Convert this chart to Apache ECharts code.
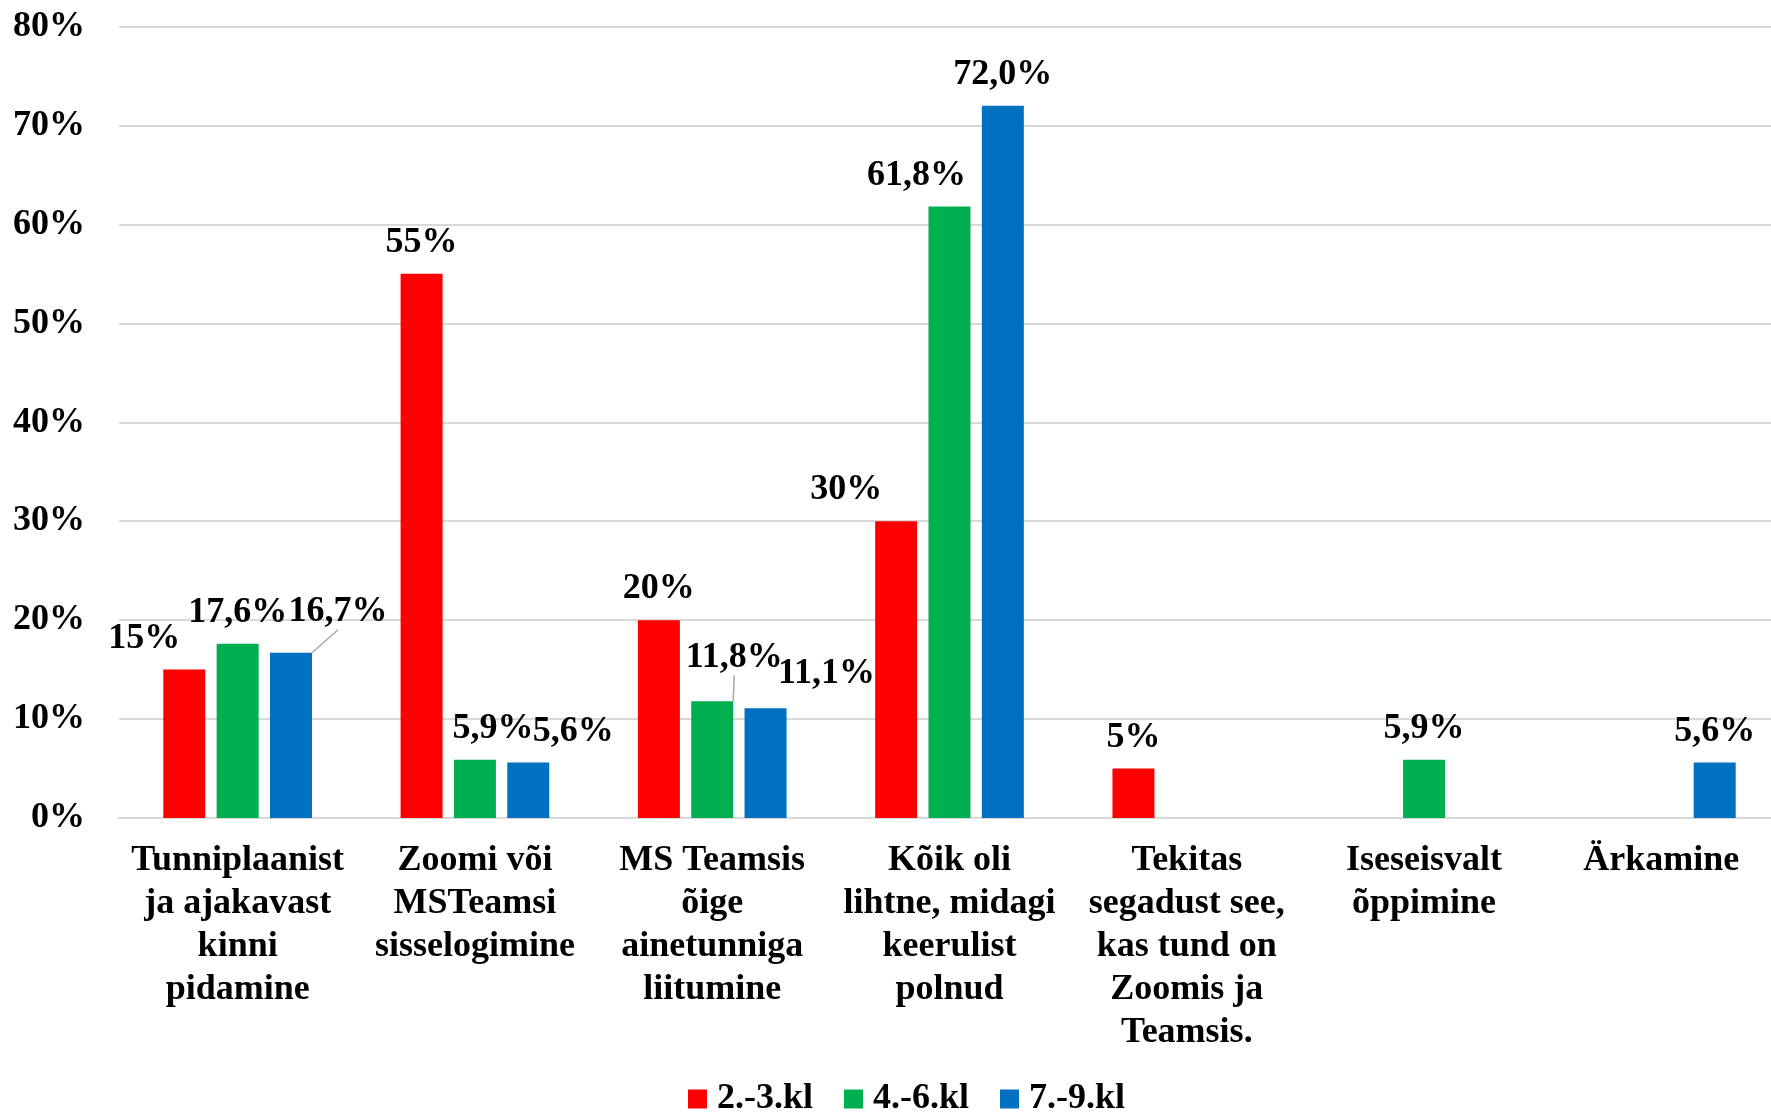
<!DOCTYPE html>
<html>
<head>
<meta charset="utf-8">
<script src="https://cdn.jsdelivr.net/npm/echarts@6/dist/echarts.min.js"></script>
<style>html,body{margin:0;padding:0;background:#fff}#c{width:1771px;height:1113px}</style>
</head>
<body>
<div id="c"></div>
<script>
var categories = [
  "Tunniplaanist\nja ajakavast\nkinni\npidamine",
  "Zoomi või\nMSTeamsi\nsisselogimine",
  "MS Teamsis\nõige\nainetunniga\nliitumine",
  "Kõik oli\nlihtne, midagi\nkeerulist\npolnud",
  "Tekitas\nsegadust see,\nkas tund on\nZoomis ja\nTeamsis.",
  "Iseseisvalt\nõppimine",
  "Ärkamine"
];
var seriesNames = ["2.-3.kl", "4.-6.kl", "7.-9.kl"];
var values23 = [15, 55, 20, 30, 5, null, null];
var values46 = [17.6, 5.9, 11.8, 61.8, null, 5.9, null];
var values79 = [16.7, 5.6, 11.1, 72.0, null, null, 5.6];
var labels23 = ["15%", "55%", "20%", "30%", "5%", "", ""];
var labels46 = ["17,6%", "5,9%", "11,8%", "61,8%", "", "5,9%", ""];
var labels79 = ["16,7%", "5,6%", "11,1%", "72,0%", "", "", "5,6%"];
var yTicks = [0, 10, 20, 30, 40, 50, 60, 70, 80];

var colors = ["#FF0000", "#00B050", "#0070C0"];
var FONT = "'Liberation Serif','Times New Roman',serif";

// label nudges [dx, dy] per series / category (layout only)
var nudges = [
  [[-40,0],[0,0],[0,0],[-50,0],[0,0],[0,0],[0,0]],
  [[0,0],[18,0],[22,-13],[-33,0],[0,0],[0,0],[0,0]],
  [[47,-10],[45,0],[61,-3],[0,0],[0,0],[0,0],[0,0]]
];
var guideLines = [[], [2], [0]];

var valueSets = [values23, values46, values79];
var labelSets = [labels23, labels46, labels79];

var series = valueSets.map(function (vals, s) {
  return {
    name: seriesNames[s],
    type: 'bar',
    barWidth: 42,
    barGap: '27%',
    itemStyle: { color: colors[s] },
    data: vals.map(function (v, i) {
      var item = { value: v };
      if (guideLines[s].indexOf(i) >= 0) {
        item.labelLine = { show: true, lineStyle: { color: '#A6A6A6', width: 1.5 } };
      }
      return item;
    }),
    label: {
      show: true,
      position: 'top',
      distance: 13,
      color: '#000',
      fontFamily: FONT,
      fontWeight: 'bold',
      fontSize: 36,
      formatter: (function (labs) { return function (p) { return labs[p.dataIndex]; }; })(labelSets[s])
    },
    labelLine: { show: false, lineStyle: { color: '#A6A6A6', width: 1.5 } },
    labelLayout: (function (ss) {
      return function (p) {
        var n = nudges[ss][p.dataIndex] || [0, 0];
        return { dx: n[0], dy: n[1] };
      };
    })(s)
  };
});

var chart = echarts.init(document.getElementById('c'));
chart.setOption({
  animation: false,
  backgroundColor: '#fff',
  grid: { left: 119, width: 1661, top: 26.5, bottom: 295, outerBoundsMode: 'none', containLabel: false },
  legend: {
    data: seriesNames,
    left: 683,
    top: 1076,
    icon: 'rect',
    itemWidth: 19,
    itemHeight: 19,
    itemGap: 31,
    textStyle: { fontFamily: FONT, fontWeight: 'bold', fontSize: 36, color: '#000', padding: [0, 0, 0, 5] }
  },
  xAxis: {
    type: 'category',
    data: categories,
    axisLine: { show: true, lineStyle: { color: '#D9D9D9', width: 2 } },
    axisTick: { show: false },
    axisLabel: {
      interval: 0,
      margin: 21,
      color: '#000',
      fontFamily: FONT,
      fontWeight: 'bold',
      fontSize: 36,
      lineHeight: 43
    }
  },
  yAxis: {
    type: 'value',
    min: yTicks[0],
    max: yTicks[yTicks.length - 1],
    interval: 10,
    axisLine: { show: false },
    axisTick: { show: false },
    splitLine: { lineStyle: { color: '#D9D9D9', width: 2 } },
    axisLabel: {
      margin: 34,
      color: '#000',
      fontFamily: FONT,
      fontWeight: 'bold',
      fontSize: 36,
      formatter: '{value}%'
    }
  },
  series: series
});
</script>
</body>
</html>
